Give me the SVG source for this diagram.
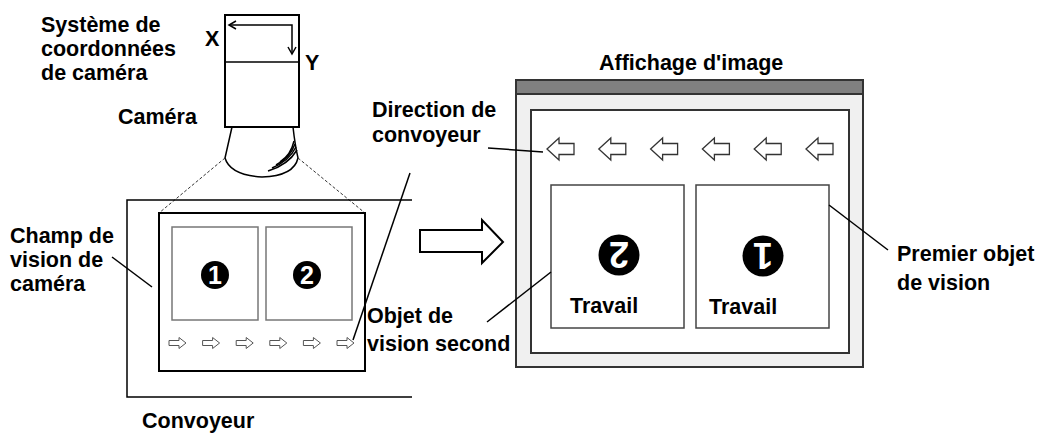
<svg xmlns="http://www.w3.org/2000/svg" width="1043" height="433" viewBox="0 0 1043 433">
  <style>
    .lbl { font-family: "Liberation Sans", Arial, sans-serif; font-weight: bold; font-size: 21.5px; fill: #000; }
    .num { font-family: "Liberation Sans", Arial, sans-serif; font-weight: bold; fill: #fff; text-anchor: middle; }
    .ln { stroke: #000; stroke-width: 1.5; fill: none; }
    .dash { stroke: #333; stroke-width: 1; stroke-dasharray: 3 2; fill: none; }
    .frame { stroke: #000; stroke-width: 2; fill: none; }
    .gbox { stroke: #777; stroke-width: 1.5; fill: #fff; }
    .dbox { stroke: #444; stroke-width: 1.5; fill: #fff; }
    .sarr { stroke: #555; stroke-width: 1; fill: #fff; }
    .larr { stroke: #333; stroke-width: 1.3; fill: #fff; }
  </style>
  <defs>
    <!-- small right-pointing conveyor arrow, origin at left middle -->
    <path id="arrR" d="M0,-2.5 H10 V-5.5 L17,0 L10,5.5 V2.5 H0 Z"/>
    <!-- left-pointing display arrow, origin at tip -->
    <path id="arrL" d="M0,0 L12,-11 V-5.5 H27 V5.5 H12 V11 Z"/>
  </defs>
  <rect width="1043" height="433" fill="#fff"/>

  <!-- camera with its coordinate axes -->
  <g id="camera">
    <rect x="225" y="15" width="74" height="112" class="frame" stroke-width="1.8"/>
    <line x1="225" y1="62" x2="299" y2="62" class="ln" stroke-width="1.8"/>
    <path d="M229,25 H292 V54" class="ln" stroke-width="1.3"/>
    <path d="M236,21 L229,25 L236,29" class="ln" stroke-width="1.3"/>
    <path d="M288,47 L292,54 L296,47" class="ln" stroke-width="1.3"/>
    <path d="M232,127 Q228,145 225,158 Q230,175 262,177 Q294,176 298,158 Q295,145 293,127" class="ln" stroke-width="1.8"/>
    <path d="M268,171 Q288,165 297,150" class="ln" stroke-width="1"/>
    <path d="M272,168 Q289,161 296,147" class="ln" stroke-width="1"/>
    <path d="M276,165 Q290,158 295,144" class="ln" stroke-width="1"/>
    <path d="M280,162 Q291,155 294,141" class="ln" stroke-width="1"/>
    <text x="205" y="46" class="lbl">X</text>
    <text x="305" y="70" class="lbl">Y</text>
  </g>

  <g id="label-coords">
    <text x="41" y="32" class="lbl">Système de</text>
    <text x="41" y="56" class="lbl">coordonnées</text>
    <text x="41" y="80" class="lbl">de caméra</text>
  </g>
  <g id="label-camera"><text x="118" y="124" class="lbl">Caméra</text></g>

  <!-- field of view dashed projection -->
  <g id="projection">
    <line x1="225" y1="158" x2="159" y2="213" class="dash"/>
    <line x1="298" y1="158" x2="365" y2="213" class="dash"/>
  </g>

  <!-- conveyor -->
  <g id="conveyor">
    <path d="M412,200 H127 V397 H412" class="ln"/>
    <text x="142" y="428" class="lbl">Convoyeur</text>
  </g>

  <!-- camera field of view -->
  <g id="field">
    <rect x="159" y="213" width="206" height="158" class="frame" fill="#fff"/>
    <rect x="172" y="227" width="86" height="93" class="gbox"/>
    <rect x="266" y="227" width="86" height="93" class="gbox"/>
    <circle cx="215" cy="275" r="14" fill="#000"/>
    <text x="215" y="284" class="num" font-size="25">1</text>
    <circle cx="307" cy="275" r="14" fill="#000"/>
    <text x="307" y="284" class="num" font-size="25">2</text>
    <use href="#arrR" x="169" y="343" class="sarr"/>
    <use href="#arrR" x="202.6" y="343" class="sarr"/>
    <use href="#arrR" x="236.2" y="343" class="sarr"/>
    <use href="#arrR" x="269.8" y="343" class="sarr"/>
    <use href="#arrR" x="303.4" y="343" class="sarr"/>
    <use href="#arrR" x="337" y="343" class="sarr"/>
  </g>

  <g id="label-field">
    <text x="10" y="243" class="lbl">Champ de</text>
    <text x="10" y="267" class="lbl">vision de</text>
    <text x="10" y="291" class="lbl">caméra</text>
  </g>

  <!-- transfer arrow -->
  <g id="big-arrow">
    <path d="M420,230 H482 V220 L503,242 L482,263 V252 H420 Z" stroke="#000" stroke-width="2" fill="#fff"/>
  </g>

  <!-- image display window -->
  <g id="display">
    <text x="599" y="70" class="lbl">Affichage d'image</text>
    <rect x="516" y="80" width="347" height="287" fill="#f0f0f0" stroke="#333" stroke-width="2"/>
    <rect x="516" y="80" width="347" height="14" fill="#808080" stroke="#333" stroke-width="2"/>
    <rect x="531" y="110" width="318" height="243" fill="#fff" stroke="#333" stroke-width="2"/>
    <use href="#arrL" x="547" y="149" class="larr"/>
    <use href="#arrL" x="598.8" y="149" class="larr"/>
    <use href="#arrL" x="650.6" y="149" class="larr"/>
    <use href="#arrL" x="702.4" y="149" class="larr"/>
    <use href="#arrL" x="754.2" y="149" class="larr"/>
    <use href="#arrL" x="806" y="149" class="larr"/>
  </g>

  <g id="display-work2">
    <rect x="551" y="185" width="133" height="143" class="dbox"/>
    <circle cx="619" cy="255" r="20.5" fill="#000"/>
    <text x="619" y="255" class="num" font-size="36" transform="rotate(180 619 255)" dy="13">2</text>
    <text x="570" y="313" class="lbl">Travail</text>
  </g>
  <g id="display-work1">
    <rect x="696" y="185" width="133" height="143" class="dbox"/>
    <circle cx="763" cy="256" r="20.5" fill="#000"/>
    <text x="763" y="256" class="num" font-size="36" transform="rotate(180 763 256)" dy="13">1</text>
    <text x="709" y="314" class="lbl">Travail</text>
  </g>

  <g id="label-direction">
    <text x="372" y="117" class="lbl">Direction de</text>
    <text x="372" y="142" class="lbl">convoyeur</text>
  </g>
  <g id="label-second">
    <text x="367" y="323" class="lbl">Objet de</text>
    <text x="367" y="351" class="lbl">vision second</text>
  </g>
  <g id="label-first">
    <text x="897" y="261" class="lbl">Premier objet</text>
    <text x="897" y="290" class="lbl">de vision</text>
  </g>

  <!-- leader lines -->
  <g id="connectors">
    <line x1="112" y1="257" x2="152" y2="287" class="ln"/>
    <line x1="488" y1="148" x2="543" y2="152" class="ln"/>
    <line x1="410" y1="173" x2="353" y2="340" class="ln"/>
    <line x1="487" y1="322" x2="551" y2="272" class="ln"/>
    <line x1="829" y1="205" x2="888" y2="250" class="ln"/>
  </g>
</svg>
